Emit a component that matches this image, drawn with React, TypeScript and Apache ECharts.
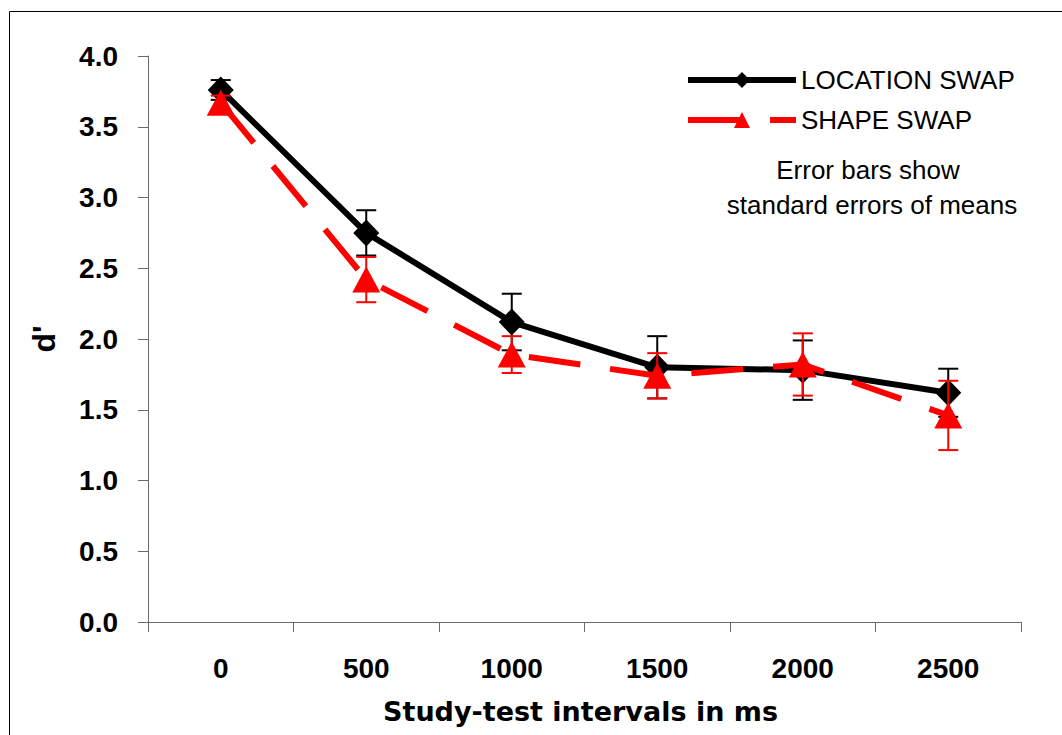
import React, { useEffect, useRef } from "react";
import * as echarts from "echarts";

const categories = ["0", "500", "1000", "1500", "2000", "2500"];
const locationSwap = [3.76, 2.75, 2.12, 1.8, 1.78, 1.62];
const locationSE = [0.07, 0.16, 0.2, 0.22, 0.21, 0.17];
const shapeSwap = [3.67, 2.42, 1.89, 1.74, 1.82, 1.46];
const shapeSE = [0.05, 0.16, 0.13, 0.16, 0.22, 0.245];
const yTicks = [0, 0.5, 1, 1.5, 2, 2.5, 3, 3.5, 4];

const errData = (vals: number[], se: number[]) =>
  vals.map((v, i) => [i, v - se[i], v + se[i]]);

const errRender = (color: string) => (params: any, api: any) => {
  const i = api.value(0);
  const top = api.coord([i, api.value(2)]);
  const bot = api.coord([i, api.value(1)]);
  const half = 10;
  const style = { stroke: color, lineWidth: 2 };
  return {
    type: "group",
    children: [
      { type: "line", shape: { x1: top[0], y1: top[1], x2: bot[0], y2: bot[1] }, style },
      { type: "line", shape: { x1: top[0] - half, y1: top[1], x2: top[0] + half, y2: top[1] }, style },
      { type: "line", shape: { x1: bot[0] - half, y1: bot[1], x2: bot[0] + half, y2: bot[1] }, style },
    ],
  };
};

export default function App() {
  const ref = useRef<HTMLDivElement>(null);
  useEffect(() => {
    document.body.style.margin = "0";
    const chart = echarts.init(ref.current!, null, { renderer: "svg" });
    const axisColor = "#6b6b6b";
    chart.setOption({
      animation: false,
      backgroundColor: "#ffffff",
      grid: { left: 148, right: 41, top: 56, bottom: 113, containLabel: false },
      legend: {
        left: 685,
        top: 67,
        padding: 0,
        orient: "vertical",
        itemWidth: 108,
        itemHeight: 20,
        itemGap: 14,
        data: [
          { name: "LOCATION SWAP", lineStyle: { width: 6 } },
          { name: "SHAPE SWAP", lineStyle: { width: 6 } },
        ],
        textStyle: { fontFamily: "Liberation Sans", fontSize: 26, color: "#000" },
      },
      graphic: [
        {
          type: "rect",
          shape: { x: 9.5, y: 11.5, width: 1100, height: 800 },
          style: { fill: "none", stroke: "#000", lineWidth: 1 },
          silent: true,
        },
        {
          type: "text",
          x: 868,
          y: 170,
          style: {
            text: "Error bars show",
            fontFamily: "Liberation Sans",
            fontSize: 26,
            fill: "#000",
            align: "center",
            verticalAlign: "middle",
          },
        },
        {
          type: "text",
          x: 872,
          y: 205,
          style: {
            text: "standard errors of means",
            fontFamily: "Liberation Sans",
            fontSize: 26,
            fill: "#000",
            align: "center",
            verticalAlign: "middle",
          },
        },
      ],
      xAxis: {
        type: "category",
        data: categories,
        boundaryGap: true,
        name: "Study-test intervals in ms",
        nameLocation: "middle",
        nameGap: 76,
        nameTextStyle: { fontFamily: "DejaVu Sans", fontWeight: "bold", fontSize: 27, color: "#000", padding: [0, 8, 0, 0] },
        axisLine: { lineStyle: { color: axisColor, width: 1 } },
        axisTick: { show: true, interval: 0, alignWithLabel: false, length: 10, lineStyle: { color: axisColor } },
        axisLabel: {
          interval: 0,
          margin: 32,
          fontFamily: "Liberation Sans",
          fontWeight: "bold",
          fontSize: 28,
          color: "#000",
        },
        splitLine: { show: false },
      },
      yAxis: {
        type: "value",
        min: yTicks[0],
        max: yTicks[yTicks.length - 1],
        interval: 0.5,
        name: "d'",
        nameLocation: "middle",
        nameRotate: 90,
        nameGap: 88,
        nameTextStyle: { fontFamily: "Liberation Sans", fontWeight: "bold", fontSize: 32, color: "#000" },
        axisLine: { show: true, lineStyle: { color: axisColor, width: 1 } },
        axisTick: { show: true, length: 10, lineStyle: { color: axisColor } },
        axisLabel: {
          margin: 30,
          fontFamily: "Liberation Sans",
          fontWeight: "bold",
          fontSize: 28,
          color: "#000",
          formatter: (v: number) => v.toFixed(1),
        },
        splitLine: { show: false },
      },
      series: [
        {
          name: "LOCATION SWAP err",
          type: "custom",
          renderItem: errRender("#000000"),
          data: errData(locationSwap, locationSE),
          encode: { x: 0, y: [1, 2] },
          z: 2,
          silent: true,
        },
        {
          name: "LOCATION SWAP",
          type: "line",
          data: locationSwap,
          symbol: "diamond",
          symbolSize: [26, 27],
          itemStyle: { color: "#000000" },
          lineStyle: { color: "#000000", width: 6 },
          z: 3,
        },
        {
          name: "SHAPE SWAP err",
          type: "custom",
          renderItem: errRender("#ff0000"),
          data: errData(shapeSwap, shapeSE),
          encode: { x: 0, y: [1, 2] },
          z: 4,
          silent: true,
        },
        {
          name: "SHAPE SWAP",
          type: "line",
          data: shapeSwap,
          symbol: "triangle",
          symbolSize: [28, 26],
          itemStyle: { color: "#ff0000" },
          lineStyle: { color: "#ff0000", width: 6, type: [52, 30], cap: "butt" },
          z: 5,
        },
      ],
    });
    return () => chart.dispose();
  }, []);
  return <div ref={ref} style={{ width: 1062, height: 735 }} />;
}
